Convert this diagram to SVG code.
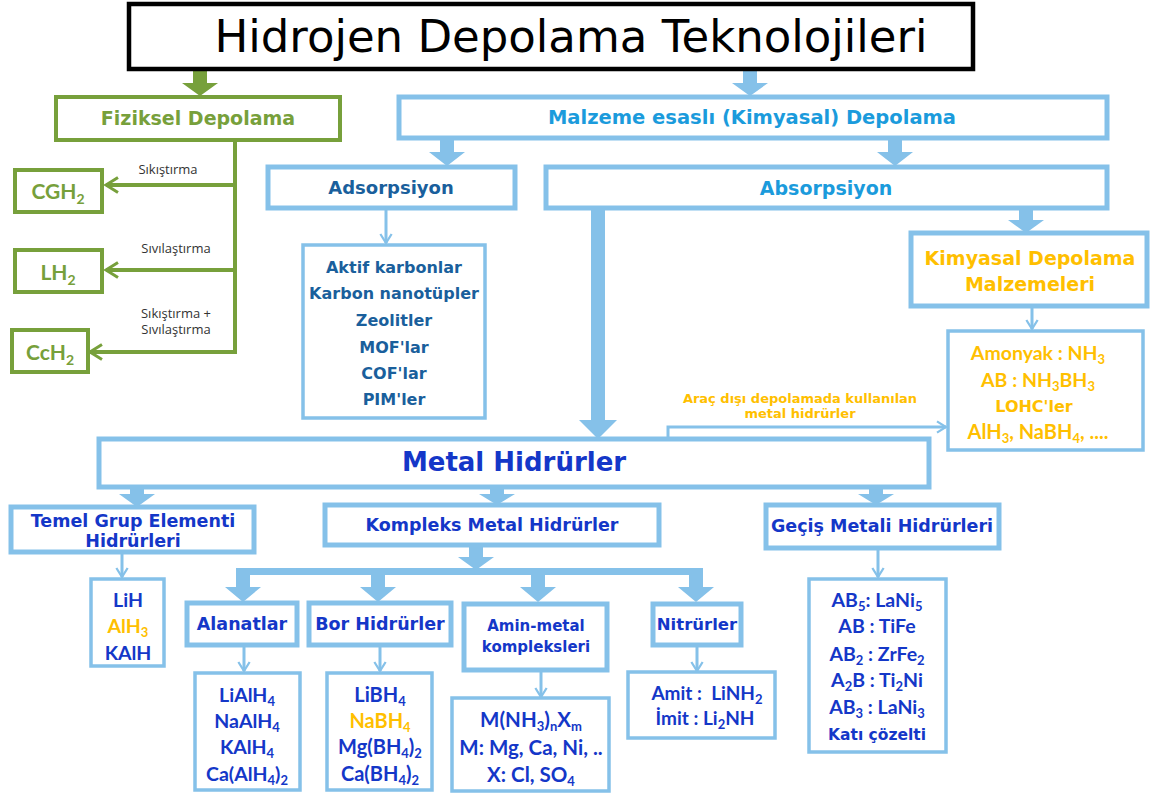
<svg xmlns="http://www.w3.org/2000/svg" width="1157" height="796" viewBox="0 0 1157 796">
<defs>
<style>
.bx{fill:#fff;stroke:#85c1e9;stroke-width:5}
.bxs{fill:#fff;stroke:#85c1e9;stroke-width:3.5}
.gbx{fill:#fff;stroke:#77a03b;stroke-width:4}
.fat{fill:#85c1e9}
.gfat{fill:#77a03b}
.thin{fill:none;stroke:#85c1e9;stroke-width:3;marker-end:url(#tb)}
.gl{fill:none;stroke:#77a03b;stroke-width:4}
.ga{fill:none;stroke:#77a03b;stroke-width:4;marker-end:url(#tg)}
.h{font-family:"DejaVu Sans",Verdana,sans-serif;font-weight:bold;text-anchor:middle}
.f{font-family:Lato,"Open Sans",sans-serif;font-weight:bold;text-anchor:middle}
.lab{font-family:"Open Sans","Liberation Sans",sans-serif;font-size:13px;fill:#333;text-anchor:middle}
.db{fill:#1437c8}
.or{fill:#ffbf00}
.ad{fill:#1a5f9c}
.lb{fill:#1b9bdc}
.gr{fill:#77a03b}
</style>
<marker id="tb" viewBox="0 0 12 12" refX="10" refY="6" markerWidth="4.5" markerHeight="4.5" orient="auto" markerUnits="strokeWidth">
<path d="M2,1 L10,6 L2,11" fill="none" stroke="#85c1e9" stroke-width="2"/>
</marker>
<marker id="tg" viewBox="0 0 12 12" refX="10" refY="6" markerWidth="4.5" markerHeight="4.5" orient="auto" markerUnits="strokeWidth">
<path d="M2,1 L10,6 L2,11" fill="none" stroke="#77a03b" stroke-width="2"/>
</marker>
</defs>
<rect width="1157" height="796" fill="#fff"/>

<g id="connectors">
<path class="gfat" d="M193,70 H207 V83 H218 L200,96 L182,83 H193 Z"/>
<path class="fat" d="M743,70 H757 V83 H768 L750,96 L732,83 H743 Z"/>
<path class="fat" d="M440,138 H454 V152 H465 L447,166 L429,152 H440 Z"/>
<path class="fat" d="M888,138 H902 V152 H913 L895,166 L877,152 H888 Z"/>
<path class="fat" d="M1019,208 H1033 V220 H1044 L1026,233 L1008,220 H1019 Z"/>
<path class="fat" d="M591,208 H605 V420 H617 L598,439 L579,420 H591 Z"/>
<path class="fat" d="M130,487 H144 V494 H155 L137,507 L119,494 H130 Z"/>
<path class="fat" d="M490,487 H504 V494 H515 L497,505 L479,494 H490 Z"/>
<path class="fat" d="M869,487 H883 V494 H894 L876,505 L858,494 H869 Z"/>
<path class="fat" d="M469,547 H483 V557 H494 L476,570 L458,557 H469 Z"/>
<path class="fat" d="M236,568 H703 V575 H236 Z"/>
<path class="fat" d="M236,568 H250 V587 H261 L243,602 L225,587 H236 Z"/>
<path class="fat" d="M371,568 H385 V587 H396 L378,602 L360,587 H371 Z"/>
<path class="fat" d="M531,568 H545 V587 H556 L538,602 L520,587 H531 Z"/>
<path class="fat" d="M689,568 H703 V587 H714 L696,602 L678,587 H689 Z"/>
<path class="gl" d="M235,140 V354"/>
<path class="ga" d="M235,185 H106"/>
<path class="ga" d="M235,270 H106"/>
<path class="ga" d="M237,352 H90"/>
<path class="thin" d="M386,208 V243"/>
<path class="thin" d="M1032,306 V329"/>
<path class="thin" d="M668,437 V427 H946"/>
<path class="thin" d="M122,553 V577"/>
<path class="thin" d="M878,549 V577"/>
<path class="thin" d="M244,646 V671"/>
<path class="thin" d="M380,646 V671"/>
<path class="thin" d="M541,671 V697"/>
<path class="thin" d="M697,646 V671"/>
</g>

<g id="title">
<rect x="129" y="4" width="844" height="65" fill="#fff" stroke="#000" stroke-width="4.5"/>
<text x="571" y="52" font-family="'DejaVu Sans',sans-serif" font-size="45" text-anchor="middle" fill="#000">Hidrojen Depolama Teknolojileri</text>
</g>

<g id="fiziksel">
<rect class="gbx" x="56" y="97" width="284" height="43"/>
<text class="h gr" x="198" y="125" font-size="19">Fiziksel Depolama</text>
</g>
<g id="cgh2">
<rect class="gbx" x="15" y="170" width="87" height="42"/>
<text class="f gr" x="58" y="199" font-size="21">CGH<tspan font-size="14" dy="5">2</tspan></text>
<text class="lab" x="168" y="174">Sıkıştırma</text>
</g>
<g id="lh2">
<rect class="gbx" x="15" y="250" width="87" height="42"/>
<text class="f gr" x="58" y="280" font-size="21">LH<tspan font-size="14" dy="5">2</tspan></text>
<text class="lab" x="176" y="253">Sıvılaştırma</text>
</g>
<g id="cch2">
<rect class="gbx" x="12" y="330" width="76" height="42"/>
<text class="f gr" x="50" y="360" font-size="21">CcH<tspan font-size="14" dy="5">2</tspan></text>
<text class="lab" x="176" y="318">Sıkıştırma +</text>
<text class="lab" x="176" y="334">Sıvılaştırma</text>
</g>

<g id="malzeme">
<rect class="bx" x="399" y="97" width="708" height="41"/>
<text class="h lb" x="752" y="124" font-size="19.5">Malzeme esaslı (Kimyasal) Depolama</text>
</g>
<g id="adsorpsiyon">
<rect class="bx" x="268" y="167" width="247" height="41"/>
<text class="h ad" x="391" y="194" font-size="18">Adsorpsiyon</text>
</g>
<g id="absorpsiyon">
<rect class="bx" x="546" y="167" width="561" height="41"/>
<text class="h lb" x="826" y="195" font-size="19">Absorpsiyon</text>
</g>
<g id="adsorbentler">
<rect class="bxs" x="303" y="245" width="182" height="173"/>
<g class="h ad" font-size="16">
<text x="394" y="273">Aktif karbonlar</text>
<text x="394" y="299">Karbon nanotüpler</text>
<text x="394" y="326">Zeolitler</text>
<text x="394" y="353">MOF'lar</text>
<text x="394" y="379">COF'lar</text>
<text x="394" y="405">PIM'ler</text>
</g>
</g>
<g id="kimyasal">
<rect class="bx" x="911" y="233" width="236" height="73"/>
<text class="h or" x="1030" y="265" font-size="19">Kimyasal Depolama</text>
<text class="h or" x="1030" y="291" font-size="19">Malzemeleri</text>
</g>
<g id="kimyasal-liste">
<rect class="bxs" x="948" y="331" width="195" height="119"/>
<g class="f or" font-size="19.5">
<text x="1038" y="360">Amonyak : NH<tspan font-size="13" dy="4">3</tspan></text>
<text x="1038" y="387">AB : NH<tspan font-size="13" dy="4">3</tspan><tspan dy="-4">BH</tspan><tspan font-size="13" dy="4">3</tspan></text>
<text class="h" x="1034" y="412" font-size="16">LOHC'ler</text>
<text x="1038" y="439" font-size="20">AlH<tspan font-size="13" dy="4">3</tspan><tspan dy="-4">, NaBH</tspan><tspan font-size="13" dy="4">4</tspan><tspan dy="-4">, ....</tspan></text>
</g>
<text class="h or" x="800" y="403" font-size="13">Araç dışı depolamada kullanılan</text>
<text class="h or" x="800" y="418" font-size="13">metal hidrürler</text>
</g>

<g id="metal-hidrurler">
<rect class="bx" x="99" y="439" width="830" height="48"/>
<text class="h db" x="514" y="471" font-size="26">Metal Hidrürler</text>
</g>
<g id="temel">
<rect class="bx" x="11" y="507" width="243" height="45"/>
<text class="h db" x="133" y="527" font-size="17.5">Temel Grup Elementi</text>
<text class="h db" x="133" y="547" font-size="17.5">Hidrürleri</text>
</g>
<g id="kompleks">
<rect class="bx" x="325" y="505" width="334" height="40"/>
<text class="h db" x="492" y="531" font-size="17.5">Kompleks Metal Hidrürler</text>
</g>
<g id="gecis">
<rect class="bx" x="766" y="505" width="233" height="43"/>
<text class="h db" x="882" y="532" font-size="17.5">Geçiş Metali Hidrürleri</text>
</g>
<g id="temel-liste">
<rect class="bxs" x="91" y="579" width="73" height="87"/>
<g class="f" font-size="19.5">
<text class="db" x="128" y="607">LiH</text>
<text class="or" x="128" y="633">AlH<tspan font-size="13" dy="4">3</tspan></text>
<text class="db" x="128" y="660">KAlH</text>
</g>
</g>
<g id="alanatlar">
<rect class="bx" x="187" y="603" width="110" height="42"/>
<text class="h db" x="242" y="630" font-size="17.5">Alanatlar</text>
</g>
<g id="bor">
<rect class="bx" x="309" y="603" width="142" height="42"/>
<text class="h db" x="380" y="630" font-size="17.5">Bor Hidrürler</text>
</g>
<g id="amin">
<rect class="bx" x="464" y="604" width="143" height="66"/>
<text class="h db" x="536" y="631" font-size="15">Amin-metal</text>
<text class="h db" x="536" y="652" font-size="15">kompleksleri</text>
</g>
<g id="nitrurler">
<rect class="bx" x="653" y="604" width="88" height="41"/>
<text class="h db" x="697" y="630" font-size="16.5">Nitrürler</text>
</g>
<g id="alanat-liste">
<rect class="bxs" x="195" y="673" width="105" height="117"/>
<g class="f db" font-size="19.5">
<text x="247" y="702">LiAlH<tspan font-size="13" dy="4">4</tspan></text>
<text x="247" y="728">NaAlH<tspan font-size="13" dy="4">4</tspan></text>
<text x="247" y="754">KAlH<tspan font-size="13" dy="4">4</tspan></text>
<text x="247" y="781">Ca(AlH<tspan font-size="13" dy="4">4</tspan><tspan dy="-4">)</tspan><tspan font-size="13" dy="4">2</tspan></text>
</g>
</g>
<g id="bor-liste">
<rect class="bxs" x="327" y="673" width="105" height="117"/>
<g class="f" font-size="20">
<text class="db" x="380" y="702">LiBH<tspan font-size="13" dy="4">4</tspan></text>
<text class="or" x="380" y="728">NaBH<tspan font-size="13" dy="4">4</tspan></text>
<text class="db" x="380" y="754">Mg(BH<tspan font-size="13" dy="4">4</tspan><tspan dy="-4">)</tspan><tspan font-size="13" dy="4">2</tspan></text>
<text class="db" x="380" y="781">Ca(BH<tspan font-size="13" dy="4">4</tspan><tspan dy="-4">)</tspan><tspan font-size="13" dy="4">2</tspan></text>
</g>
</g>
<g id="amin-liste">
<rect class="bxs" x="452" y="698" width="157" height="93"/>
<g class="f db" font-size="20.5">
<text x="531" y="727">M(NH<tspan font-size="13" dy="4">3</tspan><tspan dy="-4">)</tspan><tspan font-size="13" dy="4">n</tspan><tspan dy="-4">X</tspan><tspan font-size="13" dy="4">m</tspan></text>
<text x="531" y="755">M: Mg, Ca, Ni, ..</text>
<text x="531" y="782">X: Cl, SO<tspan font-size="13" dy="4">4</tspan></text>
</g>
</g>
<g id="nitrur-liste">
<rect class="bxs" x="628" y="672" width="147" height="66"/>
<g class="f db" font-size="19">
<text x="707" y="700" xml:space="preserve">Amit :  LiNH<tspan font-size="13" dy="4">2</tspan></text>
<text x="705" y="725">İmit : Li<tspan font-size="13" dy="4">2</tspan><tspan dy="-4">NH</tspan></text>
</g>
</g>
<g id="gecis-liste">
<rect class="bxs" x="809" y="579" width="137" height="173"/>
<g class="f db" font-size="19.5">
<text x="877" y="607">AB<tspan font-size="13" dy="4">5</tspan><tspan dy="-4">: LaNi</tspan><tspan font-size="13" dy="4">5</tspan></text>
<text x="877" y="633">AB : TiFe</text>
<text x="877" y="661">AB<tspan font-size="13" dy="4">2</tspan><tspan dy="-4"> : ZrFe</tspan><tspan font-size="13" dy="4">2</tspan></text>
<text x="877" y="687">A<tspan font-size="13" dy="4">2</tspan><tspan dy="-4">B : Ti</tspan><tspan font-size="13" dy="4">2</tspan><tspan dy="-4">Ni</tspan></text>
<text x="877" y="714">AB<tspan font-size="13" dy="4">3</tspan><tspan dy="-4"> : LaNi</tspan><tspan font-size="13" dy="4">3</tspan></text>
<text class="h" x="877" y="740" font-size="15.5">Katı çözelti</text>
</g>
</g>
</svg>
